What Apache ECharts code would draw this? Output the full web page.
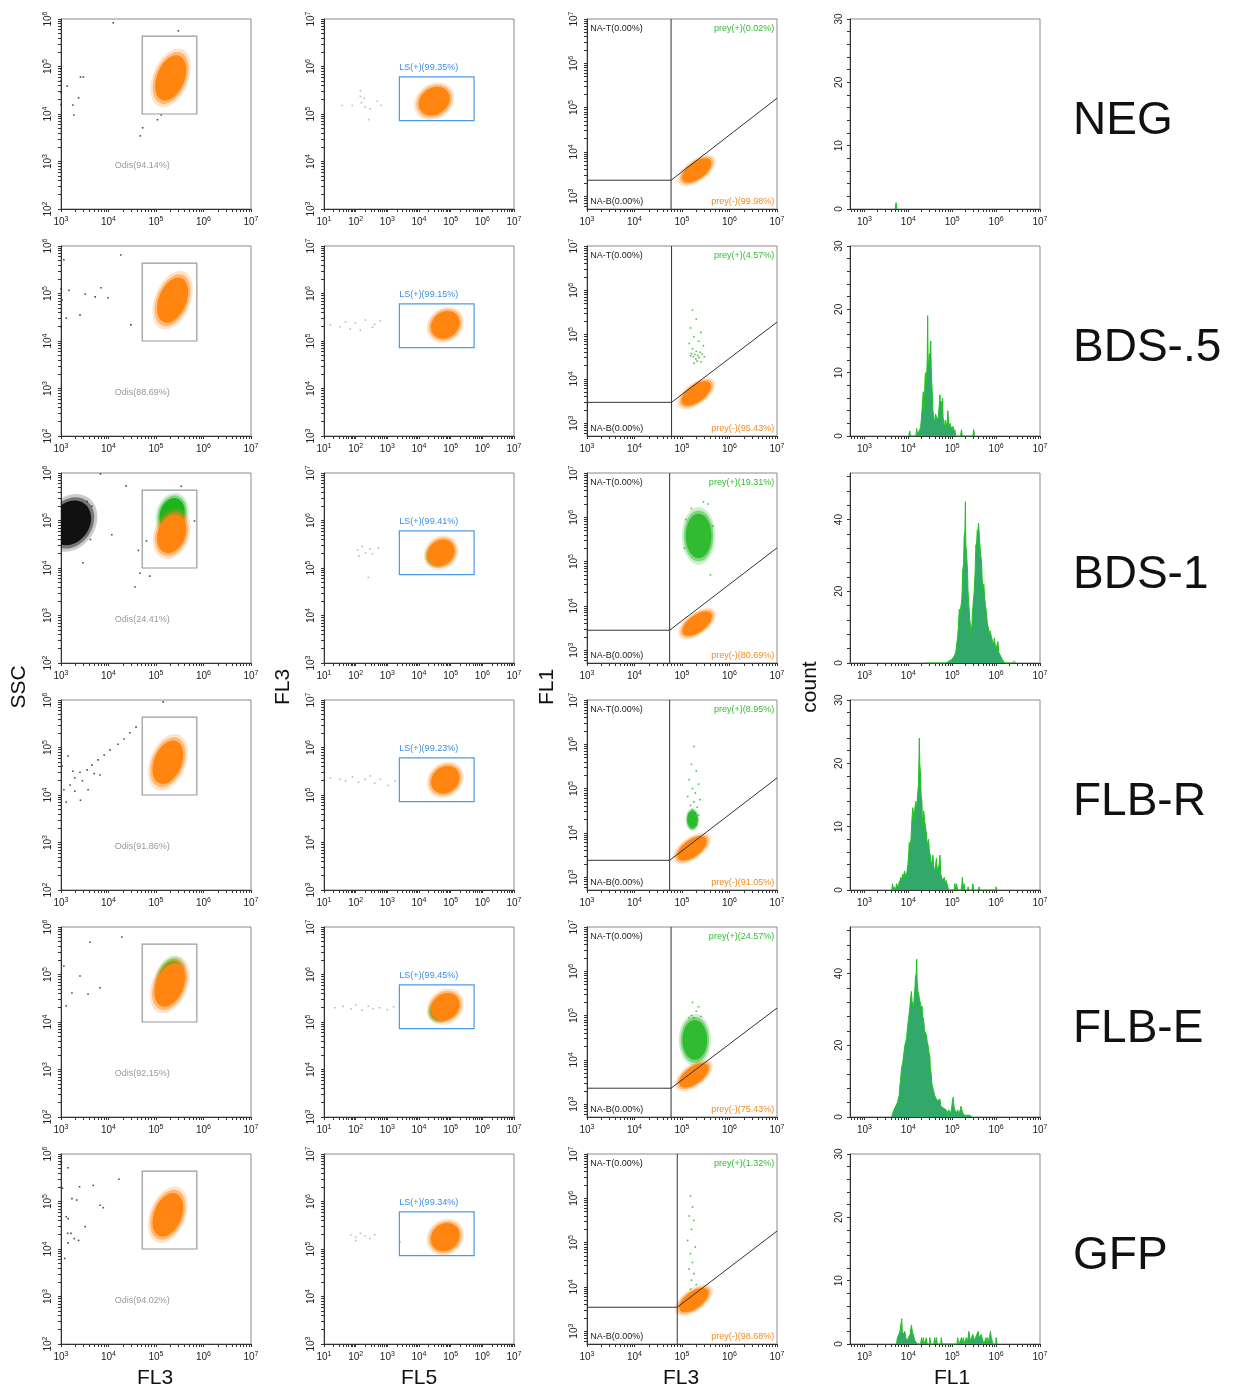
<!DOCTYPE html>
<html>
<head>
<meta charset="utf-8">
<script src="https://cdn.jsdelivr.net/npm/echarts@6/dist/echarts.min.js"></script>
<style>
html, body { margin: 0; padding: 0; background: #fff; }
#chart { width: 1233px; height: 1387px; }
</style>
</head>
<body>
<div id="chart"></div>
<script>
// all positions on the log axes are stored as log10 decades
const rowNames = ['NEG', 'BDS-.5', 'BDS-1', 'FLB-R', 'FLB-E', 'GFP']

// ---- column 1 : SSC vs FL3 ----
const odisText = ['Odis(94.14%)', 'Odis(88.69%)', 'Odis(24.41%)', 'Odis(91.86%)', 'Odis(92.15%)', 'Odis(94.02%)']
const odisGate = [4.71, 5.86, 4.0, 5.64] // x0, x1, y0, y1
// clouds: [cx, cy, spreadX, spreadY, tiltDeg]
const sscOrange = [[5.31, 4.76, 0.29, 0.5, -22], [5.35, 4.86, 0.29, 0.5, -22], [5.33, 4.72, 0.29, 0.42, -20],
  [5.25, 4.69, 0.29, 0.48, -22], [5.29, 4.78, 0.29, 0.48, -22], [5.25, 4.72, 0.29, 0.48, -22]]
const sscGreen = [null, null, [5.34, 5.12, 0.26, 0.36, -15], null, [5.30, 4.92, 0.24, 0.38, -18], null]
const sscBlack = [null, null, [3.2, 4.95, 0.4, 0.5, -35], null, null, null]
const sscDots = [
  [[4.10, 5.92], [5.47, 5.75], [3.41, 4.78], [3.47, 4.78], [3.13, 4.59], [3.37, 4.34], [3.25, 4.19], [3.27, 3.98],
    [4.72, 3.71], [4.67, 3.54], [5.03, 3.88], [5.11, 3.98], [3.0, 4.2], [3.0, 4.45], [3.0, 4.7], [3.0, 4.95]],
  [[3.17, 5.07], [3.51, 4.99], [3.84, 5.12], [3.99, 4.91], [3.72, 4.93], [3.11, 4.48], [3.40, 4.55], [4.47, 4.34],
    [4.26, 5.81], [3.06, 5.71], [3.02, 4.86], [3.0, 4.3], [3.0, 4.6], [3.0, 5.1]],
  [[3.83, 5.98], [4.37, 5.73], [5.53, 5.72], [3.58, 4.89], [3.62, 4.60], [4.07, 4.70], [3.46, 4.11], [4.63, 4.37],
    [4.66, 3.89], [4.56, 3.60], [4.87, 3.83], [4.80, 4.57], [5.81, 4.99], [3.65, 5.30], [3.55, 5.40]],
  [[3.06, 4.11], [3.19, 4.21], [3.29, 4.36], [3.40, 4.48], [3.55, 4.53], [3.65, 4.63], [3.78, 4.74], [3.91, 4.84],
    [4.03, 4.95], [4.20, 5.07], [4.33, 5.18], [4.45, 5.31], [4.58, 5.43], [3.15, 4.82], [3.02, 4.61], [3.29, 4.08],
    [3.41, 3.89], [3.57, 4.11], [3.82, 4.42], [3.11, 3.85], [5.15, 5.96], [3.45, 4.30], [3.70, 4.45], [3.25, 4.50]],
  [[3.61, 5.68], [4.28, 5.79], [3.23, 4.61], [3.57, 4.59], [3.82, 4.72], [3.06, 5.18], [3.11, 4.34], [3.40, 4.97]],
  [[3.01, 5.82], [3.15, 5.71], [3.03, 5.28], [3.39, 5.31], [3.68, 5.34], [4.22, 5.47], [3.23, 5.06], [3.33, 5.03],
    [3.82, 4.92], [3.89, 4.87], [3.11, 4.68], [3.15, 4.64], [3.51, 4.47], [3.14, 4.33], [3.21, 4.33], [3.28, 4.22],
    [3.37, 4.18], [3.15, 4.13], [3.08, 3.80]]
]

// ---- column 2 : FL3 vs FL5 ----
const lsText = ['LS(+)(99.35%)', 'LS(+)(99.15%)', 'LS(+)(99.41%)', 'LS(+)(99.23%)', 'LS(+)(99.45%)', 'LS(+)(99.34%)']
const lsGate = [3.38, 5.74, 4.86, 5.78]
const fl5Orange = [[4.48, 5.27, 0.52, 0.28, 35], [4.83, 5.34, 0.48, 0.27, 38], [4.70, 5.32, 0.45, 0.26, 42],
  [4.83, 5.32, 0.48, 0.27, 40], [4.83, 5.32, 0.48, 0.27, 40], [4.83, 5.25, 0.48, 0.28, 40]]
const fl5Green = [null, null, [4.62, 5.28, 0.35, 0.2, 35], null, [4.70, 5.25, 0.35, 0.2, 35], null]
const fl5Dots = [
  [[1.57, 5.18], [1.89, 5.18], [2.15, 5.37], [2.18, 5.24], [2.27, 5.33], [2.30, 5.15], [2.46, 5.11], [2.68, 5.27],
    [2.80, 5.18], [2.41, 4.88], [2.15, 5.49]],
  [[1.20, 5.34], [1.68, 5.40], [1.99, 5.38], [2.31, 5.44], [2.53, 5.29], [2.78, 5.42], [1.83, 5.25], [2.15, 5.23],
    [2.60, 5.35], [1.50, 5.30]],
  [[2.06, 5.38], [2.20, 5.45], [2.31, 5.32], [2.45, 5.40], [2.53, 5.30], [2.72, 5.42], [2.40, 4.80], [2.10, 5.25]],
  [[1.20, 5.36], [1.50, 5.33], [1.68, 5.30], [1.90, 5.38], [2.09, 5.27], [2.30, 5.33], [2.46, 5.40], [2.60, 5.25],
    [2.78, 5.33], [3.03, 5.20], [3.25, 5.30]],
  [[1.35, 5.30], [1.60, 5.33], [1.85, 5.28], [2.00, 5.36], [2.20, 5.25], [2.40, 5.33], [2.55, 5.28], [2.75, 5.30],
    [3.00, 5.26], [3.20, 5.32]],
  [[1.85, 5.30], [2.00, 5.25], [2.15, 5.33], [2.30, 5.28], [2.45, 5.22], [2.60, 5.30], [2.00, 5.18], [3.40, 5.15]]
]

// ---- column 3 : FL1 vs FL3 ----
const preyPos = ['prey(+)(0.02%)', 'prey(+)(4.57%)', 'prey(+)(19.31%)', 'prey(+)(8.95%)', 'prey(+)(24.57%)', 'prey(+)(1.32%)']
const preyNeg = ['prey(-)(99.98%)', 'prey(-)(95.43%)', 'prey(-)(80.69%)', 'prey(-)(91.05%)', 'prey(-)(75.43%)', 'prey(-)(98.68%)']
const gateV = [4.77, 4.78, 4.74, 4.74, 4.77, 4.90]
const gateH = [3.36, 3.47, 3.45, 3.38, 3.36, 3.54]
const gateDiag = [5.21, 5.28, 5.31, 5.24, 5.17, 5.26]
const fl1Orange = [[5.31, 3.58, 0.36, 0.19, 36], [5.30, 3.67, 0.36, 0.19, 36], [5.32, 3.60, 0.36, 0.19, 36],
  [5.21, 3.65, 0.36, 0.19, 36], [5.25, 3.65, 0.36, 0.19, 36], [5.25, 3.70, 0.36, 0.19, 36]]
const fl1Green = [null, null, [5.35, 5.58, 0.27, 0.5, 0], [5.22, 4.30, 0.11, 0.2, 0], [5.27, 4.45, 0.26, 0.45, 0], null]
const fl1Dots = [
  [],
  [[5.22, 5.55], [5.30, 5.35], [5.18, 5.15], [5.40, 5.05], [5.25, 4.95], [5.35, 4.85], [5.15, 4.80], [5.45, 4.75],
    [5.22, 4.68], [5.30, 4.62], [5.38, 4.60], [5.20, 4.57], [5.27, 4.55], [5.33, 4.53], [5.42, 4.56], [5.24, 4.50],
    [5.36, 4.48], [5.29, 4.45], [5.18, 4.52], [5.47, 4.50], [5.32, 4.40], [5.25, 4.35], [5.40, 4.38]],
  [[5.45, 6.35], [5.55, 6.30], [5.20, 6.20], [5.60, 4.70], [5.05, 5.30], [5.65, 5.80], [5.08, 5.95]],
  [[5.25, 5.95], [5.20, 5.55], [5.30, 5.40], [5.15, 5.20], [5.35, 5.10], [5.22, 5.00], [5.28, 4.90], [5.12, 4.82],
    [5.38, 4.75], [5.25, 4.70], [5.18, 4.62], [5.32, 4.58], [5.22, 4.52], [5.28, 4.45], [5.15, 4.42], [5.35, 4.40],
    [5.20, 4.35], [5.27, 4.32], [5.32, 4.28], [5.18, 4.25], [5.24, 4.22], [5.30, 4.18]],
  [[5.20, 5.00], [5.30, 5.10], [5.25, 4.95], [5.40, 4.98], [5.15, 4.95], [5.35, 5.20], [5.22, 5.30]],
  [[5.18, 6.05], [5.22, 5.80], [5.15, 5.60], [5.25, 5.50], [5.20, 5.30], [5.12, 5.05], [5.28, 4.90], [5.18, 4.75],
    [5.22, 4.55], [5.15, 4.40], [5.25, 4.30], [5.20, 4.15], [5.30, 4.05], [5.18, 3.95]]
]

// ---- column 4 : FL1 histograms [log10 FL1, count] ----
const histNEG = [[3.70, 0], [3.72, 1], [3.74, 0]]
const histBDS05 = [[4.01, 0], [4.03, 0.8], [4.05, 0], [4.17, 0], [4.19, 1.2], [4.21, 0.3], [4.24, 0.4], [4.26, 1], [4.28, 1.5],
  [4.30, 3], [4.32, 5], [4.34, 7], [4.36, 4], [4.38, 9], [4.39, 10], [4.41, 8], [4.43, 12], [4.44, 19], [4.45, 12],
  [4.46, 11], [4.48, 13], [4.49, 12], [4.51, 15], [4.52, 11], [4.53, 9], [4.55, 6], [4.56, 4], [4.58, 3], [4.60, 2],
  [4.62, 3.5], [4.64, 3], [4.66, 2.5], [4.68, 3], [4.70, 4.5], [4.72, 6.5], [4.73, 5], [4.75, 5.5], [4.76, 4], [4.78, 6],
  [4.79, 3], [4.81, 2], [4.83, 1.5], [4.84, 2.5], [4.86, 1.5], [4.87, 1.5], [4.89, 2.5], [4.90, 4], [4.92, 2], [4.93, 1.5],
  [4.95, 2], [4.96, 1.5], [4.98, 1], [4.99, 1.5], [5.01, 1], [5.02, 1.5], [5.04, 0.5], [5.06, 1], [5.08, 0], [5.19, 0],
  [5.21, 1], [5.23, 0], [5.47, 0], [5.49, 1], [5.51, 0]]
const histBDS1 = [[4.38, 0], [4.40, 0.5], [4.42, 0], [4.86, 0], [4.88, 0.5], [4.92, 0.5], [4.96, 1], [4.99, 1], [5.02, 1.5],
  [5.05, 2], [5.08, 3], [5.10, 5], [5.12, 7], [5.14, 10], [5.16, 15], [5.18, 14], [5.20, 16], [5.22, 18], [5.24, 26],
  [5.26, 28], [5.27, 35], [5.29, 37], [5.30, 45], [5.31, 33], [5.33, 30], [5.35, 25], [5.36, 20], [5.38, 16], [5.40, 12],
  [5.42, 10], [5.43, 8], [5.45, 11], [5.46, 14], [5.48, 17], [5.50, 20], [5.52, 25], [5.54, 33], [5.55, 32], [5.57, 37],
  [5.58, 36], [5.60, 39], [5.62, 35], [5.63, 33], [5.65, 30], [5.67, 28], [5.68, 24], [5.70, 20], [5.72, 22], [5.74, 18],
  [5.76, 16], [5.78, 14], [5.80, 11], [5.82, 10], [5.84, 8], [5.86, 9], [5.88, 9.5], [5.90, 7], [5.92, 6], [5.94, 5],
  [5.96, 7], [5.98, 5], [6.00, 4], [6.02, 5], [6.04, 6], [6.06, 3], [6.08, 3], [6.10, 2], [6.12, 1.5], [6.14, 1],
  [6.17, 0.5], [6.20, 0], [6.30, 0], [6.33, 0.5], [6.36, 0], [6.40, 0], [6.42, 0.5], [6.44, 0]]
const histFLBR = [[3.62, 0], [3.64, 1], [3.66, 0], [3.68, 0.5], [3.71, 0], [3.73, 1], [3.76, 0.5], [3.78, 1], [3.81, 1.5],
  [3.83, 2], [3.85, 1.5], [3.87, 2.5], [3.89, 2], [3.91, 3], [3.93, 2.5], [3.95, 2], [3.97, 3], [3.99, 4], [4.01, 6],
  [4.02, 7.5], [4.04, 7], [4.06, 8], [4.08, 11], [4.10, 13], [4.12, 12], [4.13, 11], [4.15, 13], [4.17, 14], [4.19, 13],
  [4.21, 15], [4.23, 16.5], [4.24, 20], [4.25, 24], [4.26, 20], [4.28, 18], [4.29, 15], [4.31, 14], [4.32, 10], [4.34, 12],
  [4.35, 12.5], [4.37, 11], [4.39, 10], [4.41, 9], [4.42, 8], [4.44, 7], [4.46, 8], [4.48, 6], [4.50, 5.5], [4.52, 4],
  [4.54, 4.5], [4.56, 5.5], [4.58, 3.5], [4.60, 3], [4.62, 4], [4.64, 5], [4.66, 3], [4.68, 3], [4.70, 4], [4.72, 5.5],
  [4.74, 2.5], [4.76, 2], [4.78, 1.5], [4.80, 1.5], [4.82, 2], [4.84, 1], [4.86, 1.5], [4.88, 1], [4.90, 0.5], [4.92, 0],
  [5.04, 0], [5.06, 1], [5.08, 0], [5.10, 1], [5.12, 0], [5.20, 0], [5.22, 1], [5.23, 2], [5.25, 0], [5.27, 1], [5.29, 0],
  [5.35, 0], [5.36, 0.5], [5.38, 0], [5.45, 0], [5.47, 1], [5.49, 0], [5.60, 0], [5.61, 0.5], [5.63, 0], [5.99, 0],
  [6.00, 0.5], [6.02, 0]]
const histFLBE = [[3.62, 0], [3.64, 1], [3.66, 1.5], [3.69, 2.5], [3.72, 3], [3.75, 4], [3.77, 5], [3.79, 6], [3.80, 8],
  [3.82, 10], [3.84, 13], [3.85, 14], [3.87, 15], [3.88, 16], [3.90, 18], [3.92, 20], [3.94, 21], [3.96, 22], [3.98, 25],
  [4.00, 27], [4.02, 29], [4.03, 30], [4.05, 33], [4.07, 35], [4.09, 31], [4.10, 32], [4.12, 30], [4.13, 33], [4.15, 36],
  [4.16, 39], [4.18, 40], [4.19, 44], [4.20, 38], [4.22, 35], [4.24, 34], [4.25, 33], [4.27, 32], [4.28, 31], [4.30, 30],
  [4.31, 31], [4.33, 28], [4.35, 27], [4.37, 24], [4.39, 24], [4.41, 23], [4.43, 21], [4.45, 20], [4.47, 18], [4.49, 17],
  [4.50, 14], [4.52, 12], [4.54, 9], [4.56, 8], [4.58, 7], [4.60, 6], [4.62, 6.5], [4.64, 6], [4.66, 4.5], [4.68, 4],
  [4.70, 4], [4.72, 5], [4.74, 3], [4.76, 3], [4.78, 2.5], [4.80, 2.5], [4.82, 2.5], [4.84, 2], [4.86, 2], [4.88, 1],
  [4.90, 1.5], [4.92, 2], [4.94, 1.5], [4.96, 1], [4.98, 2], [5.00, 4], [5.02, 5.5], [5.04, 3], [5.06, 2], [5.08, 1.5],
  [5.10, 1], [5.12, 2], [5.14, 1.5], [5.16, 1], [5.18, 2], [5.20, 3], [5.21, 3.5], [5.23, 1.5], [5.25, 1], [5.27, 0.5],
  [5.30, 0.5], [5.33, 0.5], [5.36, 0.5], [5.40, 0.5], [5.44, 0.5], [5.46, 0]]
const histGFP = [[3.73, 0], [3.75, 1], [3.78, 1.5], [3.81, 2], [3.83, 2], [3.85, 4], [3.86, 2], [3.88, 2], [3.90, 1.5],
  [3.92, 2], [3.94, 1], [3.96, 1], [3.98, 0.5], [4.00, 1], [4.02, 1], [4.04, 1.5], [4.06, 2.5], [4.07, 3], [4.09, 2],
  [4.11, 1.5], [4.13, 1], [4.15, 0.5], [4.17, 0.5], [4.19, 0.5], [4.21, 0], [4.28, 0], [4.30, 1], [4.32, 0], [4.34, 1],
  [4.36, 0], [4.40, 0], [4.41, 1], [4.43, 0], [4.48, 0], [4.49, 1], [4.51, 0], [4.58, 0], [4.60, 1], [4.62, 0], [4.64, 1],
  [4.66, 0], [4.74, 0], [4.75, 1], [4.77, 0], [5.11, 0], [5.12, 1], [5.14, 1], [5.16, 0], [5.20, 0], [5.21, 1], [5.23, 0],
  [5.25, 1], [5.27, 0], [5.31, 0], [5.32, 1], [5.34, 0], [5.36, 1], [5.38, 2], [5.40, 1], [5.42, 0.5], [5.44, 1], [5.46, 1],
  [5.47, 1.5], [5.49, 1], [5.51, 0.5], [5.53, 1], [5.55, 1], [5.57, 1], [5.59, 2], [5.61, 1], [5.62, 1], [5.64, 1],
  [5.66, 1.5], [5.68, 1], [5.70, 1], [5.72, 0], [5.76, 0], [5.77, 1], [5.79, 0], [5.81, 1], [5.83, 0], [5.85, 1], [5.87, 2],
  [5.89, 1], [5.91, 1], [5.93, 0], [5.99, 0], [6.00, 1], [6.02, 0]]
const histAll = [histNEG, histBDS05, histBDS1, histFLBR, histFLBE, histGFP]
const histMax = [30, 30, 53, 30, 53, 30]

// layout
const colLeft = [61, 324, 587, 850]
const rowTop = [19, 246, 473, 700, 927, 1154]
const SIZE = 190
const FONT = '"Liberation Sans", Arial, sans-serif'
const ORANGE = '#FF8410'
const GREEN = '#1EB41E'
const xRange = [[3, 7], [1, 7], [3, 7], [2.67, 7]]
const yRange = [[2, 6], [3, 7], [2.71, 7]]

const logTicks = (lo, hi) => {
  const t = []
  for (let n = Math.floor(lo); n <= Math.ceil(hi); n++) {
    for (let k = 1; k < 10; k++) {
      const v = n + Math.log10(k)
      if (v >= lo - 1e-6 && v <= hi + 1e-6) t.push(+v.toFixed(4))
    }
  }
  return t
}
const decades = (lo, hi) => {
  const t = []
  for (let n = Math.ceil(lo - 1e-6); n <= hi + 1e-6; n++) t.push(n)
  return t
}
const supRich = {
  s: { fontSize: 7, fontFamily: FONT, color: '#222', verticalAlign: 'bottom', padding: [0, 0, 6, 0] }
}
const powFmt = v => '10{s|' + Math.round(v) + '}'

const grids = []
const xAxes = []
const yAxes = []
const series = []

function axisBase (idx, lo, hi, rotate, margin) {
  return {
    type: 'value',
    gridIndex: idx,
    min: lo,
    max: hi,
    splitLine: { show: false },
    axisLine: { show: true, onZero: false, lineStyle: { color: '#333', width: 1 } },
    axisTick: { show: true, length: 3, lineStyle: { color: '#333' } },
    axisLabel: { fontSize: 10, fontFamily: FONT, color: '#222', margin: margin, rotate: rotate, rich: supRich }
  }
}

function addPanel (r, c) {
  const idx = grids.length
  grids.push({
    left: colLeft[c], top: rowTop[r], width: SIZE, height: SIZE,
    show: true, borderColor: '#8a8a8a', borderWidth: 1, backgroundColor: 'transparent'
  })
  const xr = xRange[c]
  const xa = axisBase(idx, xr[0], xr[1], 0, 7)
  xa.axisTick.customValues = logTicks(xr[0], xr[1])
  xa.axisLabel.customValues = decades(xr[0], xr[1])
  xa.axisLabel.formatter = powFmt
  xAxes.push(xa)
  let ya
  if (c < 3) {
    const yr = yRange[c]
    ya = axisBase(idx, yr[0], yr[1], 90, 6)
    ya.axisTick.customValues = logTicks(yr[0], yr[1])
    ya.axisLabel.customValues = decades(yr[0], yr[1])
    ya.axisLabel.formatter = powFmt
  } else {
    const m = histMax[r]
    const step = m > 40 ? 20 : 10
    const minor = m > 40 ? 4 : 2
    ya = axisBase(idx, 0, m, 90, 6)
    const tk = []
    for (let v = 0; v <= m; v += minor) tk.push(v)
    const lb = []
    for (let v = 0; v <= m; v += step) lb.push(v)
    ya.axisTick.customValues = tk
    ya.axisLabel.customValues = lb
    ya.axisLabel.formatter = v => String(v)
  }
  yAxes.push(ya)
  return idx
}

function cloudSeries (g, cloud, color, z, coreOpacity) {
  if (!cloud) return
  const core = coreOpacity || 1
  series.push({
    type: 'custom', xAxisIndex: g, yAxisIndex: g, clip: true, z: z, silent: true,
    data: [cloud],
    renderItem: (params, api) => {
      const p = api.coord([api.value(0), api.value(1)])
      const s = api.size([api.value(2), api.value(3)])
      const rot = api.value(4) * Math.PI / 180
      const ring = (k, op) => ({
        type: 'ellipse', x: p[0], y: p[1], rotation: rot,
        shape: { cx: 0, cy: 0, rx: s[0] * k, ry: s[1] * k },
        style: { fill: color, opacity: op }
      })
      return { type: 'group', children: [ring(1.3, 0.22), ring(1.15, 0.45), ring(1, core)] }
    }
  })
}

function dotSeries (g, pts, color, z) {
  if (!pts || !pts.length) return
  series.push({
    type: 'scatter', xAxisIndex: g, yAxisIndex: g, symbol: 'rect', symbolSize: 1.6, z: z, silent: true,
    itemStyle: { color: color }, data: pts
  })
}

function rectSeries (g, box, color) {
  series.push({
    type: 'custom', xAxisIndex: g, yAxisIndex: g, z: 5, silent: true,
    data: [box],
    renderItem: (params, api) => {
      const a = api.coord([api.value(0), api.value(3)])
      const b = api.coord([api.value(1), api.value(2)])
      return {
        type: 'rect',
        shape: { x: a[0], y: a[1], width: b[0] - a[0], height: b[1] - a[1] },
        style: { fill: 'none', stroke: color, lineWidth: 1.2 }
      }
    }
  })
}

function textSeries (g, items) {
  // items: [x, y, text, align, color]
  series.push({
    type: 'custom', xAxisIndex: g, yAxisIndex: g, z: 6, silent: true,
    data: items.map(it => [it[0], it[1]]),
    renderItem: (params, api) => {
      const it = items[params.dataIndex]
      const p = api.coord([api.value(0), api.value(1)])
      return {
        type: 'text', x: p[0], y: p[1],
        style: { text: it[2], fill: it[4], font: '9px ' + FONT, align: it[3], verticalAlign: 'middle' }
      }
    }
  })
}

function lineSeries (g, pts, color) {
  series.push({
    type: 'line', xAxisIndex: g, yAxisIndex: g, z: 4, silent: true, symbol: 'none',
    lineStyle: { color: color, width: 1 }, data: pts
  })
}

for (let r = 0; r < 6; r++) {
  // SSC vs FL3
  let g = addPanel(r, 0)
  cloudSeries(g, sscBlack[r], '#111', 2)
  cloudSeries(g, sscGreen[r], GREEN, 2)
  cloudSeries(g, sscOrange[r], ORANGE, 3)
  dotSeries(g, sscDots[r], '#222', 3)
  rectSeries(g, odisGate, '#999')
  textSeries(g, [[4.71, 2.92, odisText[r], 'center', '#999']])

  // FL3 vs FL5
  g = addPanel(r, 1)
  cloudSeries(g, fl5Green[r], GREEN, 2)
  cloudSeries(g, fl5Orange[r], ORANGE, 3)
  dotSeries(g, fl5Dots[r], '#aaa', 3)
  rectSeries(g, lsGate, '#4C9BE8')
  textSeries(g, [[lsGate[0], 5.97, lsText[r], 'left', '#3D8EE3']])

  // FL1 vs FL3
  g = addPanel(r, 2)
  cloudSeries(g, fl1Green[r], GREEN, 2, 0.8)
  cloudSeries(g, fl1Orange[r], ORANGE, 3)
  dotSeries(g, fl1Dots[r], GREEN, 3)
  lineSeries(g, [[3, gateH[r]], [gateV[r], gateH[r]], [7, gateDiag[r]]], '#333')
  lineSeries(g, [[gateV[r], 2.71], [gateV[r], 7]], '#333')
  textSeries(g, [
    [3.07, 6.79, 'NA-T(0.00%)', 'left', '#222'],
    [6.94, 6.79, preyPos[r], 'right', '#33BB33'],
    [3.07, 2.87, 'NA-B(0.00%)', 'left', '#222'],
    [6.94, 2.87, preyNeg[r], 'right', '#F5891E']
  ])

  // FL1 histogram
  g = addPanel(r, 3)
  series.push({
    type: 'line', xAxisIndex: g, yAxisIndex: g, symbol: 'none', silent: true, clip: true,
    lineStyle: { color: '#1EC41E', width: 1 },
    areaStyle: { color: '#33A86B', opacity: 1 },
    data: histAll[r]
  })
}

const graphic = []
rowNames.forEach((name, r) => {
  graphic.push({
    type: 'text', x: 1073, y: rowTop[r] + 102,
    style: { text: name, font: '46px ' + FONT, fill: '#111', align: 'left', verticalAlign: 'middle' }
  })
})
const sideTitles = [['SSC', 19], ['FL3', 283], ['FL1', 547], ['count', 810]]
sideTitles.forEach(t => {
  graphic.push({
    type: 'text', x: t[1], y: 687, rotation: Math.PI / 2,
    style: { text: t[0], font: '21px ' + FONT, fill: '#111', align: 'center', verticalAlign: 'middle' }
  })
})
const bottomTitles = [['FL3', 155], ['FL5', 419], ['FL3', 681], ['FL1', 952]]
bottomTitles.forEach(t => {
  graphic.push({
    type: 'text', x: t[1], y: 1378,
    style: { text: t[0], font: '21px ' + FONT, fill: '#111', align: 'center', verticalAlign: 'middle' }
  })
})

const chart = echarts.init(document.getElementById('chart'), null, { renderer: 'canvas' })
chart.setOption({
  animation: false,
  backgroundColor: '#fff',
  grid: grids,
  xAxis: xAxes,
  yAxis: yAxes,
  series: series,
  graphic: graphic
})
</script>
</body>
</html>
